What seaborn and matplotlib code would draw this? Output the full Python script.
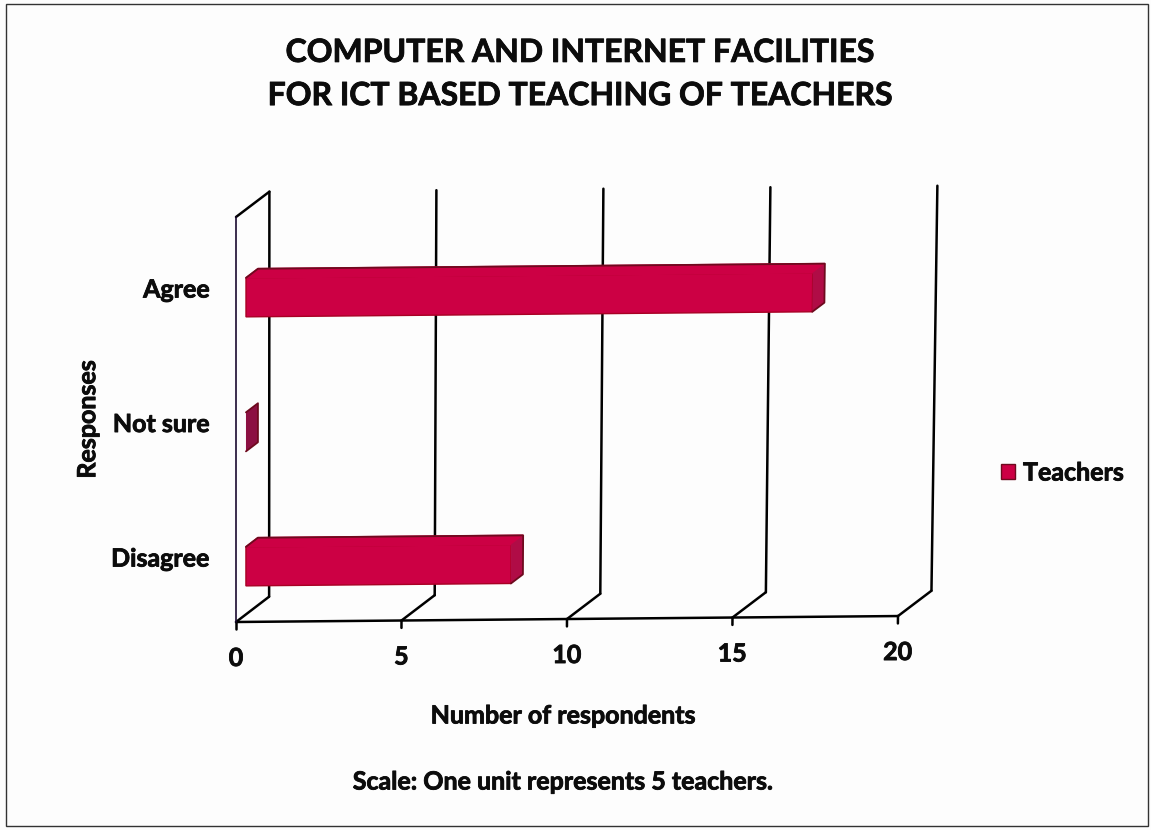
import matplotlib
matplotlib.use('Agg')
import matplotlib.pyplot as plt
import matplotlib.patheffects as pe
import seaborn as sns
from matplotlib.patches import Rectangle
from matplotlib.transforms import Transform

# Values
responses = ['Agree', 'Not sure', 'Disagree']
teachers = [17, 0, 8]
x_ticks = [0, 5, 10, 15, 20]

title = 'COMPUTER AND INTERNET FACILITIES\nFOR ICT BASED TEACHING OF TEACHERS'
x_label = 'Number of respondents'
y_label = 'Responses'
scale_note = 'Scale: One unit represents 5 teachers.'

# Colours
front_color = '#CC0044'
side_color = '#B00C46'
zero_color = '#8C1042'
edge_color = '#A80024'
dark_edge = '#6E0A1E'
ink = '#0C0C0C'

W, H = 1151, 830
FONT = 'Lato'

sns.set_theme(style='white')
plt.rcParams['font.family'] = [FONT, 'DejaVu Sans']


class ScanWarp(Transform):
    # the source is a slightly crooked scan, so lean everything a bit
    input_dims = 2
    output_dims = 2
    is_separable = False
    has_inverse = False

    def transform_non_affine(self, values):
        out = values.copy()
        dx = values[:, 0] - 236
        dy = values[:, 1] - (H - 622)
        out[:, 0] = values[:, 0] + 2.1e-5 * dx * dy
        out[:, 1] = values[:, 1] + 0.009 * dx
        return out


warp = ScanWarp()

fig = plt.figure(figsize=(W / 100, H / 100), dpi=100, facecolor='#FDFDFD')
ax = fig.add_axes([236 / W, (H - 622) / H, 662 / W, 405 / H])
ax.patch.set_visible(False)

sns.barplot(x=teachers, y=responses, order=responses, color=front_color, saturation=1,
            width=0.29, orient='h', label='Teachers', ax=ax)

ax.set_xlim(0, 20)
ax.set_ylim(2.483, -0.528)
sns.despine(ax=ax, left=True, bottom=True)

tilted = ax.transData + warp

# back wall offset, in data units
wall_dx = 1.0
wall_dy = 0.186
top = ax.get_ylim()[1]
base = ax.get_ylim()[0]
line_kw = dict(color='black', lw=1.8, transform=tilted, clip_on=False, zorder=1)

# wall and floor lines
for t in x_ticks:
    ax.plot([t, t + wall_dx], [base, base - wall_dy], **line_kw)
    ax.plot([t + wall_dx, t + wall_dx], [base - wall_dy, top - wall_dy], **line_kw)
    ax.plot([t, t], [base, base + 0.055], **line_kw)
ax.plot([0, 20], [base, base], **line_kw)
ax.plot([0, wall_dx], [top, top - wall_dy], **line_kw)
ax.plot([0, 0], [base, top], color='#1A0A30', lw=1.2, transform=tilted, clip_on=False, zorder=1)

# pseudo 3D bars: front face is moved in from the wall, top and side are added
bar_dx = 0.36
bar_dy = 0.067
for bar in ax.patches:
    x0 = 0.3
    w = bar.get_width()
    y0 = bar.get_y() + 0.07
    h = bar.get_height()
    bar.set_x(x0)
    bar.set_y(y0)
    bar.set_transform(tilted)
    bar.set_clip_on(False)
    bar.set_zorder(3)
    x1 = x0 + w
    if w > 0:
        bar.set_edgecolor(edge_color)
        bar.set_linewidth(1.0)
        # top face blends into the front, as in the source
        ax.fill([x0, x0 + bar_dx, x1 + bar_dx, x1], [y0, y0 - bar_dy, y0 - bar_dy, y0],
                fc=front_color, ec=front_color, lw=1.2, transform=tilted, clip_on=False, zorder=4)
    else:
        bar.set_visible(False)
    ax.fill([x1, x1 + bar_dx, x1 + bar_dx, x1], [y0, y0 - bar_dy, y0 + h - bar_dy, y0 + h],
            color=zero_color if w == 0 else side_color, lw=0, transform=tilted, clip_on=False, zorder=4)
    # darker outline round the back of the box
    ax.plot([x0, x0 + bar_dx, x1 + bar_dx, x1 + bar_dx, x1],
            [y0, y0 - bar_dy, y0 - bar_dy, y0 + h - bar_dy, y0 + h],
            color=dark_edge, lw=1.3, transform=tilted, clip_on=False, zorder=5)

# axis text
ax.set_xticks(x_ticks)
ax.tick_params(axis='x', length=0, pad=18, labelsize=18, labelcolor=ink)
ax.tick_params(axis='y', length=0, pad=19, labelsize=18, labelcolor=ink)
for lab in ax.get_xticklabels():
    lab.set_fontweight('bold')
    lab.set_transform(lab.get_transform() + warp)
for lab in ax.get_yticklabels():
    lab.set_fontweight('bold')

ax.set_xlabel(x_label, fontsize=18, fontweight='bold', color=ink, va='center')
ax.xaxis.set_label_coords(0.494, -0.232)
ax.set_ylabel(y_label, fontsize=18, fontweight='bold', color=ink, va='center')
ax.yaxis.set_label_coords(-0.224, 0.5)

sup = fig.suptitle(title, x=581 / W, y=1 - 74 / H, va='center', fontsize=23, fontweight='bold',
                   color=ink, linespacing=1.59)
note = fig.text(563 / W, 1 - 782 / H, scale_note, ha='center', va='center', fontsize=18,
                fontweight='bold', color=ink)

leg = ax.legend(loc='center left', bbox_to_anchor=(1001 / W, 1 - 473 / H), bbox_transform=fig.transFigure,
                frameon=False, fontsize=18, borderpad=0, borderaxespad=0, handlelength=0.58,
                handleheight=0.58, handletextpad=0.3)
for text in leg.get_texts():
    text.set_fontweight('bold')
    text.set_color(ink)
for handle in leg.legend_handles:
    handle.set_edgecolor(dark_edge)
    handle.set_linewidth(1.0)

# source type is heavier than Lato Bold, thicken it a little
heavy = [pe.withStroke(linewidth=0.6, foreground=ink)]
all_text = [sup, note, ax.xaxis.label, ax.yaxis.label] + ax.get_xticklabels() + ax.get_yticklabels() + leg.get_texts()
for text in all_text:
    text.set_path_effects(heavy)

# page frame from the scan
fig.add_artist(Rectangle((6 / W, 4 / H), 1142 / W, 822 / H, transform=fig.transFigure,
                         fill=False, ec='#333333', lw=1.0))

fig.savefig('out.png', dpi=100, facecolor=fig.get_facecolor())
